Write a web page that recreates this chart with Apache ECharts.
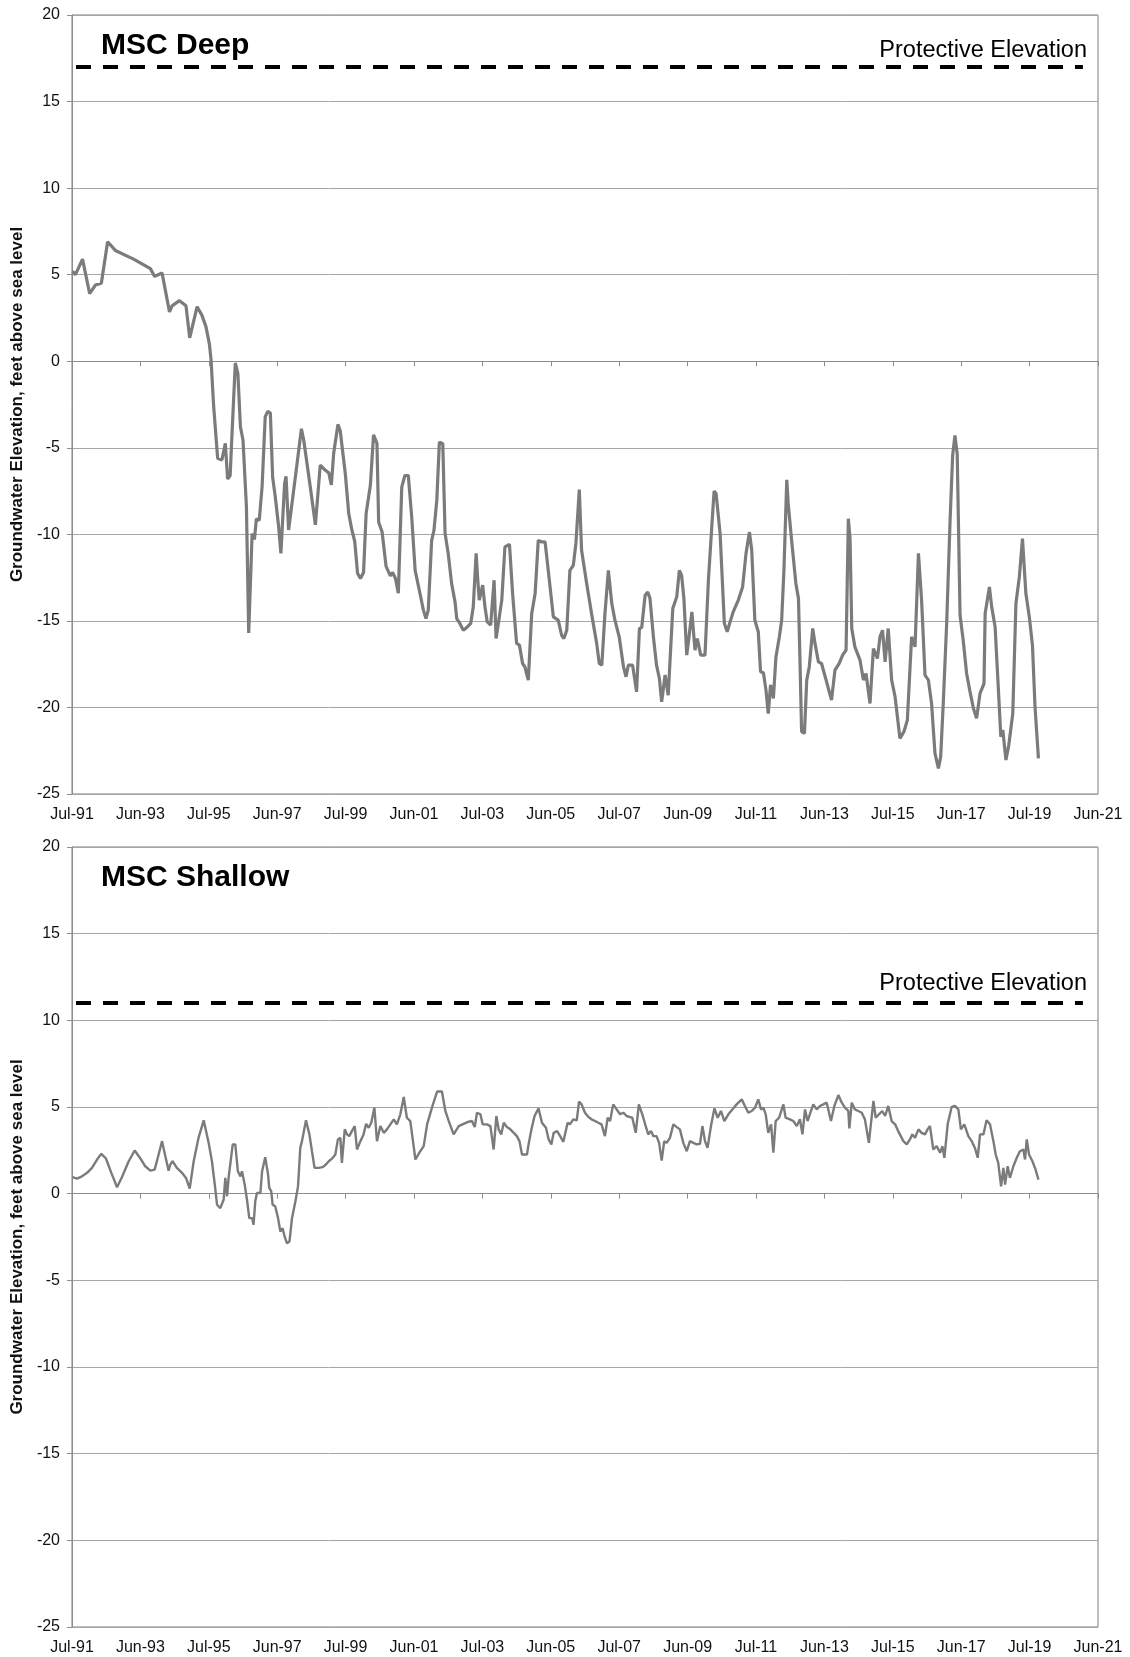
<!DOCTYPE html>
<html>
<head>
<meta charset="utf-8">
<title>MSC groundwater elevations</title>
<script src="https://cdn.jsdelivr.net/npm/echarts@6/dist/echarts.min.js"></script>
<style>
  html, body { margin: 0; padding: 0; background: #fff; }
  #chart { width: 1130px; height: 1657px; }
</style>
</head>
<body>
<div id="chart"></div>
<script>
// x values are months since Jul-91
const xLabels = ['Jul-91', 'Jun-93', 'Jul-95', 'Jun-97', 'Jul-99', 'Jun-01', 'Jul-03', 'Jun-05',
  'Jul-07', 'Jun-09', 'Jul-11', 'Jun-13', 'Jul-15', 'Jun-17', 'Jul-19', 'Jun-21'];
const yTicks = { min: -25, max: 20, step: 5 };

const deepMonth = [0.2, 1.2, 3.7, 6.2, 8.2, 10.3, 12.5, 15.2, 21.6, 27.5, 29, 31.6, 34.2, 35.1, 37.7, 40, 41.3,
  43.9, 45.6, 47, 48.2, 48.8, 49.7, 51.1, 52.6, 53.8, 54.6, 55.5, 56.1, 57.3, 58.2, 59.1, 60, 61.2, 62, 63.2,
  64, 64.7, 65.7, 66.7, 67.8, 68.7, 69.6, 70.4, 71.3, 72.5, 73.3, 74.6, 75.1, 76, 78.4, 80.5, 81.3, 83.6, 85.4,
  86, 87.1, 88.9, 90.1, 91, 91.8, 93.3, 94.1, 95.9, 97.1, 98.2, 99.2, 99.8, 100.2, 101.2, 102.3, 103.2, 104.7,
  105.8, 107, 107.6, 108.8, 110.2, 111.7, 112.5, 113.5, 114.5, 115.7, 116.8, 118, 119.2, 120.4, 120.9, 122.1,
  123.3, 124.2, 125, 126.2, 127, 128, 128.9, 130.1, 130.9, 132, 133.2, 134.4, 135, 136.1, 137.3, 138.7, 139.9,
  140.8, 141.8, 142.3, 142.9, 144.1, 144.9, 145.7, 146.9, 148.1, 148.8, 149.6, 150.8, 151.9, 153.5, 154.6, 156,
  157, 158.1, 158.9, 160.1, 161.3, 162.5, 163.6, 164.8, 166, 167.1, 168.9, 170.6, 171.8, 172.6, 173.6, 174.7,
  175.9, 176.8, 178, 178.8, 180.6, 182.3, 184.1, 185, 185.9, 187, 188.2, 189.4, 190.5, 192, 193.5, 194.4, 195.2,
  196.7, 198.1, 199.1, 199.9, 201.1, 202, 202.8, 204, 205.1, 206.1, 206.9, 208.1, 209.2, 210.8, 212.2, 213.1,
  213.9, 214.7, 215.7, 216.5, 217.5, 218.6, 219.4, 220.6, 222.1, 223.3, 224.4, 225.3, 226, 227.4, 228.9, 229.9,
  230.9, 232, 233.8, 235.3, 236.5, 237.7, 238.5, 239.6, 240.8, 241.6, 242.6, 243.5, 244.3, 245.1, 246.1, 247,
  248.2, 249, 249.8, 250.8, 251.3, 252.5, 254, 254.9, 255.4, 256, 257, 257.8, 258.7, 259.9, 260.7, 261.9, 263,
  264.6, 266.5, 267.7, 269.2, 270.4, 271.6, 272.4, 273, 273.6, 274.7, 276.5, 277.7, 278.6, 280, 281.2, 282.6,
  283.5, 284.4, 285.3, 286.4, 287.6, 288.8, 290.5, 291.9, 293.1, 294.6, 295.2, 295.8, 297, 298.1, 299.3, 300.5,
  301.6, 302.8, 304, 304.8, 305.7, 306.9, 308.1, 309, 309.8, 310.6, 311.6, 312.7, 313.9, 315.1, 316.3, 317.4,
  318.6, 320, 320.4, 321.9, 322.7, 323.9, 325, 325.9, 326.6, 327.7, 328.7, 330.1, 331.2, 332.4, 333.5, 334.4,
  334.7, 335.9, 337, 337.9, 339.1];
const deepLevel = [5.2, 5, 5.9, 3.9, 4.4, 4.5, 6.9, 6.4, 5.9, 5.35, 4.9, 5.1, 2.85, 3.2, 3.5, 3.2, 1.35,
  3.15, 2.65, 2, 1, 0.06, -2.6, -5.6, -5.7, -4.75, -6.8, -6.6, -4.35, -0.1, -0.7, -3.8, -4.55, -8.4, -15.7, -9.95,
  -10.3, -9.1, -9.2, -7.25, -3.2, -2.9, -3, -6.7, -7.8, -9.55, -11.1, -7.05, -6.65, -9.75, -6.65, -3.9, -4.55, -7.25, -9.45,
  -9.4, -6, -6.3, -6.45, -7.15, -5.35, -3.65, -4, -6.5, -8.8, -9.75, -10.4, -10.4, -12.25, -12.55, -12.2, -8.8, -7.15,
  -4.25, -4.75, -9.3, -9.85, -11.85, -12.4, -12.2, -12.55, -13.4, -7.27, -6.6, -6.6, -9, -12.08, -12.17, -13.42,
  -14.38, -14.87, -14.38, -10.35, -9.77, -8.04, -4.67, -4.77, -9.94, -11.1, -12.85, -13.9, -14.87, -15.15, -15.54, -15.35, -15.15,
  -14.19, -11.1, -12.46, -13.8, -12.94, -14.19, -15.06, -15.25, -12.65, -16.02, -15.15, -13.8, -10.73, -10.58, -13.42, -16.3,
  -16.4, -17.46, -17.65, -18.42, -14.58, -13.42, -10.35, -10.44, -10.44, -12.08, -14.77, -14.96, -15.83, -16.02, -15.54, -12.08,
  -11.79, -10.54, -7.42, -10.92, -12.85, -14.58, -16.3, -17.46, -17.56, -14.58, -12.08, -14, -14.96, -15.92, -17.65, -18.23, -17.56,
  -17.56, -19.1, -15.44, -15.38, -13.52, -13.33, -13.7, -15.92, -17.56, -18.33, -19.67, -18.13, -19.29, -14.29, -13.6, -12.08,
  -12.37, -13.7, -16.98, -15.92, -14.48, -16.69, -16.02, -16.98, -16.98, -12.65, -9.77, -7.5, -7.65, -9.94, -15.15, -15.63,
  -15.06, -14.48, -13.8, -13.04, -11.1, -9.87, -10.92, -14.96, -15.63, -17.94, -18, -19, -20.35, -18.7, -19.48, -17.08,
  -15.92, -14.96, -12.08, -6.85, -8.23, -10.35, -12.85, -13.7, -17.08, -21.4, -21.5, -18.42, -17.65, -15.44, -16.3, -17.37, -17.46,
  -18.42, -19.58, -17.85, -17.46, -16.98, -16.69, -9.1, -10.25, -15.44, -16.5, -17.27, -18.42, -18.04, -19.77, -16.6, -17.17,
  -15.92, -15.54, -17.37, -15.44, -18.42, -19.38, -21.79, -21.4, -20.73, -15.92, -15.83, -16.5, -11.1, -13.8, -18.13, -18.42,
  -19.77, -22.65, -23.52, -22.85, -19.77, -15.15, -9.19, -5.44, -4.29, -5.35, -14.67, -16.12, -18.04, -19.1, -20.06, -20.63,
  -19.19, -18.62, -14.58, -13.04, -14.19, -15.35, -18.8, -21.69, -21.3, -23.04, -22.17, -20.35, -14, -12.46, -10.25, -12.65,
  -13.42, -14.77, -16.4, -19.96, -22.94];

const shallowMonth = [0.2, 1.75, 3.5, 5.3, 7, 8.8, 10.3, 11.9, 13.8, 15.8, 17.5, 19.9, 22, 24, 25.7, 27.5, 29,
  30.4, 31.6, 32.75, 33.9, 34.5, 35.3, 36.8, 38.6, 40, 41.3, 42.7, 44.4, 46.2, 47.95, 49.1, 50.1, 50.9, 52.05,
  53.2, 53.8, 54.4, 55, 55.55, 56.4, 57.3, 58.2, 59.1, 59.65, 60.6, 61.4, 62.2, 63.2, 63.7, 64.3, 64.9, 66.1,
  66.7, 67.8, 68.8, 69.2, 69.9, 70.4, 71.3, 72.3, 73.1, 73.9, 74.6, 75.4, 76.3, 77.2, 78.4, 79.3, 80.1, 80.7,
  81.3, 82.1, 83.3, 84.2, 85.1, 86.55, 87.95, 89.1, 90.1, 90.6, 91.5, 92.4, 93.3, 94.15, 94.7, 95.7, 96.5, 97.3,
  98.2, 99.2, 100, 101.2, 102.3, 103.2, 104.1, 105, 106.1, 107, 108.2, 109.4, 110.5, 111.7, 112.9, 114, 115.2,
  116.4, 117.5, 118.7, 120.5, 122.2, 123.4, 124.6, 126.3, 128.1, 129.8, 131, 132.2, 133.9, 135.7, 137.4, 139.2,
  140.35, 141.3, 142.1, 143.3, 144.1, 145.6, 146.8, 147.95, 148.9, 149.7, 150.6, 151.5, 152.6, 153.8, 155, 156.1,
  157, 157.9, 159.65, 160.2, 161.2, 162.3, 163.7, 164.9, 166.3, 167.25, 168.2, 169, 170.2, 171.3, 172.4, 173.9,
  174.7, 175.9, 177.1, 177.9, 178.8, 180, 181.2, 182.3, 183.5, 184.7, 185.8, 187, 187.95, 188.8, 189.9, 191.1,
  192.3, 193.45, 194.6, 195.8, 196.6, 197.8, 198.9, 200.1, 201.3, 202.2, 203.15, 204, 205.1, 206, 206.9, 207.8,
  208.65, 209.8, 211, 212.2, 213.3, 214.5, 215.7, 216.8, 218, 219.2, 220.35, 221.2, 222.1, 223, 224.2, 225.4,
  226.55, 227.7, 228.9, 230.3, 231.7, 233.2, 235, 236.1, 237.3, 238.5, 239.65, 240.8, 241.75, 242.6, 243.4,
  244.3, 245.3, 246.1, 246.9, 248.1, 249.6, 250.4, 251.9, 253.1, 254.3, 255.4, 256.3, 257.2, 258.1, 259.3, 260.1,
  261.3, 262.45, 263.6, 264.8, 266.3, 267.5, 268.9, 270.1, 271.2, 272.4, 272.75, 273.6, 274.7, 275.9, 277.1,
  278.2, 279.6, 281.2, 282, 283.15, 284.3, 285.3, 286.4, 287.6, 288.8, 289.9, 291.7, 292.9, 294, 294.85, 295.8,
  297, 298.1, 299.3, 300.2, 301.05, 302.2, 303.4, 304.6, 305.4, 306.1, 307.25, 308.65, 309.8, 311, 311.9, 313.1,
  314.5, 315.7, 316.8, 317.8, 318.6, 319.8, 320.9, 322.1, 323.3, 324.1, 325, 326, 326.8, 327.4, 328.3, 329.1,
  330.3, 331.5, 332.6, 333.8, 334.4, 335, 335.8, 337, 338.1, 339.1];
const shallowLevel = [0.95, 0.87, 1, 1.2, 1.49, 1.97, 2.3, 2.03, 1.2, 0.37, 0.95, 1.87, 2.49, 2.03, 1.58, 1.33, 1.39,
  2.26, 3.03, 2.16, 1.33, 1.68, 1.87, 1.49, 1.2, 0.91, 0.29, 1.87, 3.22, 4.23, 2.93, 1.87, 0.52, -0.64, -0.83,
  -0.35, 0.91, -0.15, 1, 0.91, 2.84, 2.84, 1.29, 1, 1.29, 0.52, -0.35, -1.41, -1.41, -1.8, -0.44, 0.04, 0.04,
  1.29, 2.1, 1.1, 0.33, 0.14, -0.64, -0.73, -1.41, -2.18, -1.99, -2.47, -2.86, -2.76, -1.41, -0.44, 0.42, 2.64, 3.03,
  3.03, 4.23, 3.42, 2.45, 1.49, 1.49, 1.53, 1.68, 1.87, 1.78, 2.07, 2.26, 3.13, 3.22, 1.78, 3.71, 3.42, 3.32,
  3.61, 3.9, 2.55, 3.03, 3.42, 4.03, 3.8, 4.09, 4.96, 3.03, 3.9, 3.51, 3.71, 4, 4.29, 4, 4.58,
  5.58, 4.38, 4.19, 1.97, 2.45, 2.74, 4, 4.96, 5.89, 5.89, 4.77, 4.19, 3.42, 3.9, 4.03, 4.15,
  4.19, 3.84, 4.67, 4.58, 4, 4, 3.9, 2.55, 4.48, 3.71, 3.42, 4.09, 3.84, 3.71, 3.51, 3.32,
  3.03, 2.26, 2.26, 2.84, 3.71, 4.48, 4.92, 4.09, 3.8, 3.13, 2.84, 3.51, 3.61, 3.32, 2.99, 4.09,
  4, 4.29, 4.23, 5.31, 5.15, 4.67, 4.42, 4.29, 4.19, 4.09, 4, 3.32, 4.38, 4.19, 5.15, 4.86,
  4.58, 4.67, 4.48, 4.42, 4.38, 3.51, 5.15, 4.58, 3.9, 3.42, 3.61, 3.32, 3.32, 2.93, 1.91, 3.03,
  2.93, 3.22, 4, 3.84, 3.71, 2.93, 2.45, 3.03, 2.93, 2.84, 2.88, 3.9, 3.03, 2.64, 3.9, 4.92,
  4.38, 4.77, 4.19, 4.58, 4.86, 5.15, 5.44, 5.06, 4.67, 4.77, 4.96, 5.44, 4.86, 4.96, 4.58,
  3.51, 4, 2.36, 4.19, 4.38, 5.15, 4.38, 4.29, 4.19, 3.9, 4.29, 3.42, 4.86, 4.19, 4.77, 5.15,
  4.86, 5.06, 5.15, 5.25, 4.19, 5.06, 5.69, 5.25, 4.96, 4.77, 3.76, 5.25, 4.86, 4.77, 4.67,
  4.29, 2.93, 5.35, 4.38, 4.58, 4.77, 4.48, 5.06, 4.19, 4, 3.61, 3.03, 2.84, 3.13, 3.42, 3.22,
  3.71, 3.51, 3.42, 3.71, 3.9, 2.55, 2.74, 2.36, 2.74, 2.07, 4, 5, 5.06, 4.86, 3.71, 4,
  3.32, 3.03, 2.64, 2.07, 3.42, 3.42, 4.23, 4, 3.03, 2.26, 1.78, 0.42, 1.49, 0.52, 1.58, 0.91,
  1.58, 2.07, 2.45, 2.55, 1.97, 3.13, 2.26, 1.87, 1.39, 0.81];

// protective elevation reference lines
const protectMonth = [1.4, 354.7];
const deepProtect = 17;
const shallowProtect = 11;

const FONT = "'Liberation Sans', Arial, sans-serif";
const pairs = (xs, ys) => xs.map((x, i) => [x, ys[i]]);

const chart = echarts.init(document.getElementById('chart'));

function xAxisFor(gridIndex) {
  return {
    type: 'value', gridIndex: gridIndex,
    min: 0, max: (xLabels.length - 1) * 24, interval: 24,
    axisLine: { show: true, lineStyle: { color: '#8c8c8c', width: 1 } },
    axisTick: { show: true, length: 5, lineStyle: { color: '#8c8c8c' } },
    splitLine: { show: false },
    axisLabel: {
      margin: 13, fontSize: 16, color: '#111', fontFamily: FONT,
      formatter: v => xLabels[Math.round(v / 24)]
    }
  };
}

function yAxisFor(gridIndex) {
  return {
    type: 'value', gridIndex: gridIndex,
    min: yTicks.min, max: yTicks.max, interval: yTicks.step,
    name: 'Groundwater Elevation, feet above sea level',
    nameLocation: 'middle', nameGap: 42, nameRotate: 90,
    nameTextStyle: { fontSize: 17, fontWeight: 'bold', color: '#111', fontFamily: FONT },
    axisLine: { show: true, lineStyle: { color: '#8c8c8c', width: 1 } },
    axisTick: { show: true, length: 5, lineStyle: { color: '#8c8c8c' } },
    splitLine: { show: true, lineStyle: { color: '#a6a6a6', width: 1 } },
    axisLabel: { margin: 12, fontSize: 16, color: '#111', fontFamily: FONT }
  };
}

function levelSeries(idx, xs, ys, width) {
  return {
    type: 'line', xAxisIndex: idx, yAxisIndex: idx,
    data: pairs(xs, ys), symbol: 'none', smooth: false,
    lineStyle: { color: '#7b7b7b', width: width }, z: 3
  };
}

function protectSeries(idx, level) {
  return {
    type: 'line', xAxisIndex: idx, yAxisIndex: idx,
    data: protectMonth.map(m => [m, level]), symbol: 'none',
    lineStyle: { color: '#000', width: 4, type: [15, 12] }, z: 4
  };
}

chart.setOption({
  animation: false,
  backgroundColor: '#fff',
  grid: [
    { left: 72, right: 32, top: 15, height: 779, show: true, borderColor: '#7f7f7f', borderWidth: 1 },
    { left: 72, right: 32, top: 847, height: 780, show: true, borderColor: '#7f7f7f', borderWidth: 1 }
  ],
  xAxis: [xAxisFor(0), xAxisFor(1)],
  yAxis: [yAxisFor(0), yAxisFor(1)],
  series: [
    levelSeries(0, deepMonth, deepLevel, 3.2),
    protectSeries(0, deepProtect),
    levelSeries(1, shallowMonth, shallowLevel, 2.4),
    protectSeries(1, shallowProtect)
  ],
  graphic: [
    { type: 'text', left: 101, top: 31, style: { text: 'MSC Deep', font: "bold 30px " + FONT, fill: '#000' } },
    { type: 'text', left: 101, top: 863, style: { text: 'MSC Shallow', font: "bold 30px " + FONT, fill: '#000' } },
    { type: 'text', right: 43, top: 39, style: { text: 'Protective Elevation', font: "23.5px " + FONT, fill: '#000' } },
    { type: 'text', right: 43, top: 972, style: { text: 'Protective Elevation', font: "23.5px " + FONT, fill: '#000' } }
  ]
});
</script>
</body>
</html>
